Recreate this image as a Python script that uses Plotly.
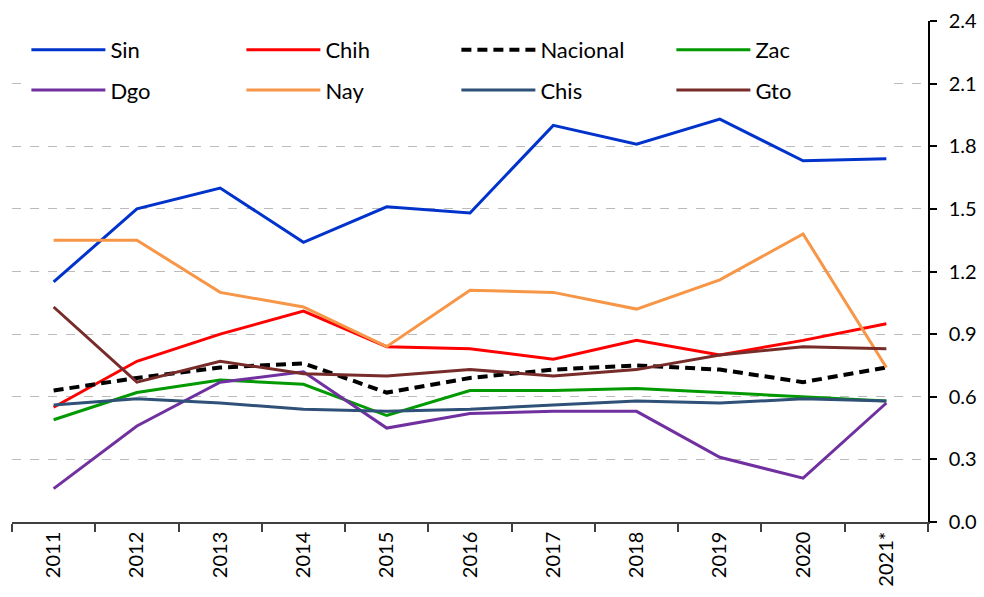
import plotly.graph_objects as go

years = ["2011", "2012", "2013", "2014", "2015", "2016", "2017", "2018", "2019", "2020", "2021*"]

sin = [1.15, 1.50, 1.60, 1.34, 1.51, 1.48, 1.90, 1.81, 1.93, 1.73, 1.74]
chih = [0.55, 0.77, 0.90, 1.01, 0.84, 0.83, 0.78, 0.87, 0.80, 0.87, 0.95]
nacional = [0.63, 0.69, 0.74, 0.76, 0.62, 0.69, 0.73, 0.75, 0.73, 0.67, 0.74]
zac = [0.49, 0.62, 0.68, 0.66, 0.51, 0.63, 0.63, 0.64, 0.62, 0.60, 0.58]
dgo = [0.16, 0.46, 0.67, 0.72, 0.45, 0.52, 0.53, 0.53, 0.31, 0.21, 0.57]
nay = [1.35, 1.35, 1.10, 1.03, 0.84, 1.11, 1.10, 1.02, 1.16, 1.38, 0.74]
chis = [0.56, 0.59, 0.57, 0.54, 0.53, 0.54, 0.56, 0.58, 0.57, 0.59, 0.58]
gto = [1.03, 0.67, 0.77, 0.71, 0.70, 0.73, 0.70, 0.73, 0.80, 0.84, 0.83]

y_ticks = [0.0, 0.3, 0.6, 0.9, 1.2, 1.5, 1.8, 2.1, 2.4]

series = [
    ("Sin", sin, "#0033CC", "solid", 3, "legend"),
    ("Chih", chih, "#FF0000", "solid", 3, "legend"),
    ("Nacional", nacional, "#000000", "10px,6px", 4, "legend"),
    ("Zac", zac, "#009900", "solid", 3, "legend"),
    ("Dgo", dgo, "#7030A0", "solid", 3, "legend2"),
    ("Nay", nay, "#F79646", "solid", 3, "legend2"),
    ("Chis", chis, "#2F5077", "solid", 3, "legend2"),
    ("Gto", gto, "#772C2A", "solid", 3, "legend2"),
]

fig = go.Figure()
for name, vals, color, dash, w, lg in series:
    fig.add_trace(go.Scatter(
        x=years, y=vals, name=name, mode="lines",
        line=dict(color=color, width=w, dash=dash),
        legend=lg,
    ))

font = dict(family="Lato, Open Sans, sans-serif", size=20, color="#000000")
legend_font = dict(family="Lato, Open Sans, sans-serif", size=22, color="#000000")
legend_common = dict(
    orientation="h", xref="paper", yref="paper",
    xanchor="left", yanchor="middle",
    bgcolor="rgba(255,255,255,1)", borderwidth=0,
    entrywidth=126, entrywidthmode="pixels", itemwidth=74,
    font=legend_font, traceorder="normal",
)

fig.update_layout(
    width=984, height=597,
    margin=dict(l=12, r=56, t=21, b=75),
    paper_bgcolor="white", plot_bgcolor="white",
    font=font,
    showlegend=True,
    legend=dict(x=0.0157, y=0.942, **legend_common),
    legend2=dict(x=0.0157, y=0.862, **legend_common),
    xaxis=dict(
        type="category", range=[-0.5, 10.5],
        showgrid=False, showline=True, linecolor="#404040", linewidth=1.5,
        ticks="outside", tickson="boundaries", ticklen=8, tickcolor="#404040", tickwidth=1.5,
        tickangle=-90, tickfont=font, zeroline=False, automargin=False,
    ),
    yaxis=dict(
        side="right", range=[0, 2.4], tickvals=y_ticks, tickformat=".1f",
        showgrid=True, gridcolor="#BBBBBB", griddash="dash", gridwidth=1,
        showline=True, linecolor="#000000", linewidth=1.5,
        ticks="outside", ticklen=7, tickcolor="#000000", tickwidth=1.5,
        ticklabelstandoff=8,
        tickfont=font, zeroline=False, automargin=False,
    ),
)

fig.write_html(
    "out.html",
    config={"displayModeBar": False},
    post_script="document.body.style.margin='0px';document.body.style.overflow='hidden';",
)
